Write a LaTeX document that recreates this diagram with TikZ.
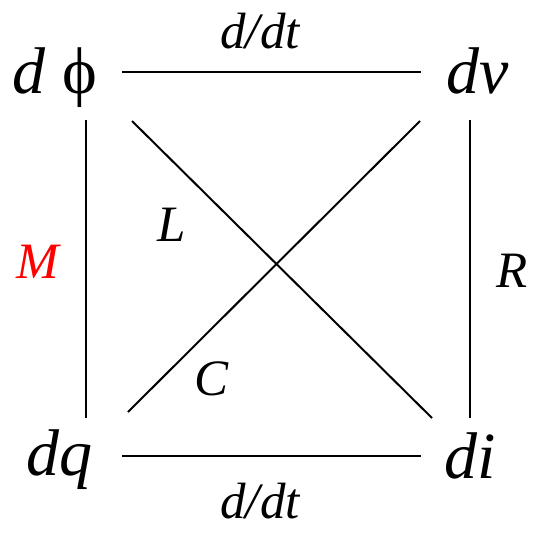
\documentclass[tikz,border=0pt]{standalone}
\usepackage{fontspec}
\setmainfont{Liberation Serif}
\begin{document}
\begin{tikzpicture}[x=1pt,y=-1pt,
  big/.style={font=\fontsize{66}{66}\selectfont\itshape,inner sep=0pt,anchor=base},
  lab/.style={font=\fontsize{51}{51}\selectfont\itshape,inner sep=0pt,anchor=base},
  edge/.style={line width=2pt}]
\useasboundingbox (0,0) rectangle (533,533);
\node[big] (phi) at (55,93) {d \upshape ϕ};
\node[big] (dv) at (478,93) {dv};
\node[big] (dq) at (60,475) {dq};
\node[big] (di) at (470,478) {di};
\coordinate (t1) at (122,72); \coordinate (t2) at (421,72);
\coordinate (b1) at (122,456); \coordinate (b2) at (421,456);
\coordinate (l1) at (86,120); \coordinate (l2) at (86,418);
\coordinate (r1) at (470,120); \coordinate (r2) at (470,418);
\coordinate (d1) at (132,121); \coordinate (d2) at (432,418);
\coordinate (e1) at (420,121); \coordinate (e2) at (128,412);
\draw[edge] (t1) -- (t2);
\draw[edge] (b1) -- (b2);
\draw[edge] (l1) -- (l2);
\draw[edge] (r1) -- (r2);
\draw[edge] (d1) -- (d2);
\draw[edge] (e1) -- (e2);
\node[lab] (ddt1) at (260,48) {d/dt};
\node[lab] (ddt2) at (260,518) {d/dt};
\node[lab,text=red] (M) at (38,278) {M};
\node[lab] (R) at (512,287) {R};
\node[lab] (L) at (172,241) {L};
\node[lab] (C) at (212,395) {C};
\end{tikzpicture}
\end{document}
